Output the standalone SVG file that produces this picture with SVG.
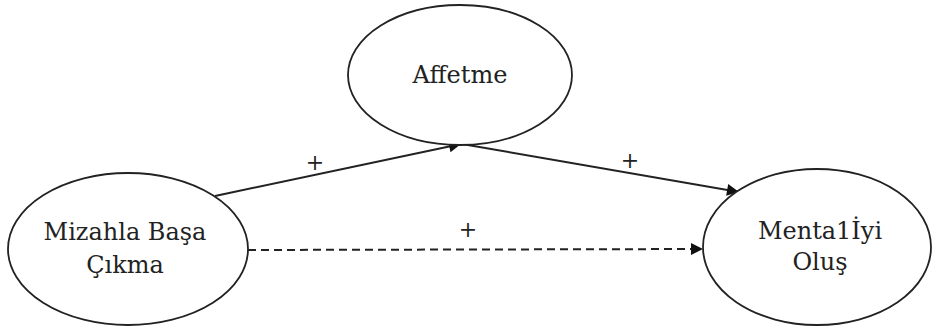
<svg xmlns="http://www.w3.org/2000/svg" width="933" height="331" viewBox="0 0 933 331">
<defs>
<marker id="arr" viewBox="0 0 10 10" refX="10" refY="5" markerWidth="17" markerHeight="12" markerUnits="userSpaceOnUse" orient="auto">
<path d="M0,0 L10,5 L0,10 z" fill="#111"/>
</marker>
<style>
.node{fill:#fff;stroke:#222;stroke-width:1.8}
.edge{fill:none;stroke:#222;stroke-width:2;marker-end:url(#arr)}
.dash{stroke-dasharray:8,5}
text{font-family:"DejaVu Serif","Times New Roman",serif;fill:#222;text-anchor:middle}
.t{font-size:24px}
.lbl{font-size:22px}
</style>
</defs>
<rect width="933" height="331" fill="#fff"/>
<g id="connectors">
<path class="edge" d="M215,196 L461,144"/>
<path class="edge" d="M462,144 L739,192"/>
<path class="edge dash" d="M248,250 L703,249"/>
<text class="lbl" x="315" y="170">+</text>
<text class="lbl" x="630" y="168">+</text>
<text class="lbl" x="468" y="237">+</text>
</g>
<g id="affetme">
<ellipse class="node" cx="460" cy="75" rx="112" ry="70"/>
<text class="t" x="460" y="83">Affetme</text>
</g>
<g id="mizahla">
<ellipse class="node" cx="128" cy="249" rx="120" ry="76"/>
<text class="t" x="125" y="240">Mizahla Başa</text>
<text class="t" x="125" y="273">Çıkma</text>
</g>
<g id="mental">
<ellipse class="node" cx="817" cy="247" rx="114" ry="78"/>
<text class="t" x="820" y="239">Menta1İyi</text>
<text class="t" x="820" y="270">Oluş</text>
</g>
</svg>
